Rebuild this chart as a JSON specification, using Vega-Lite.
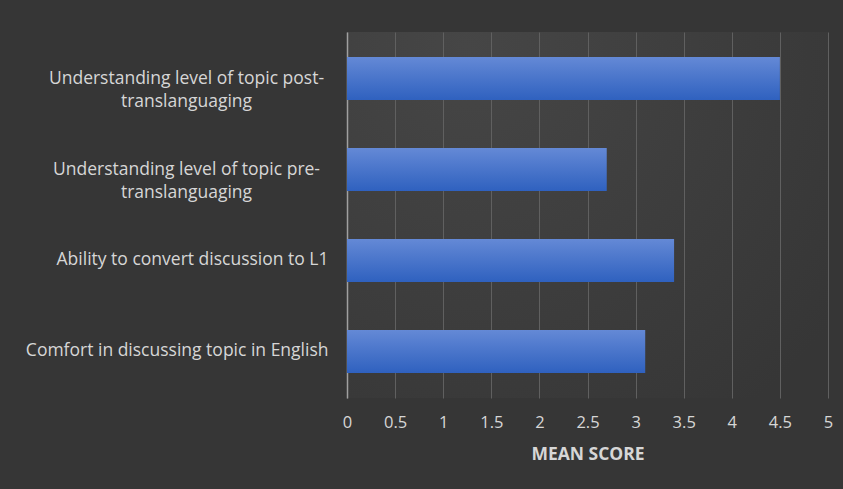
{
  "$schema": "https://vega.github.io/schema/vega-lite/v6.json",
  "width": 481,
  "height": 366,
  "autosize": {"type": "none"},
  "padding": {"left": 347, "top": 32, "right": 15, "bottom": 91},
  "background": "#363636",
  "config": {
    "view": {
      "stroke": null,
      "fill": {
        "gradient": "radial",
        "x1": 0.25, "y1": 0.15, "r1": 0,
        "x2": 0.25, "y2": 0.15, "r2": 0.95,
        "stops": [
          {"offset": 0, "color": "#464646"},
          {"offset": 1, "color": "#363636"}
        ]
      }
    },
    "font": "Open Sans"
  },
  "data": {
    "values": [
      {"item": "Understanding level of topic post-translanguaging", "score": 4.5},
      {"item": "Understanding level of topic pre-translanguaging", "score": 2.7},
      {"item": "Ability to convert discussion to L1", "score": 3.4},
      {"item": "Comfort in discussing topic in English", "score": 3.1}
    ]
  },
  "mark": {
    "type": "bar",
    "color": {
      "gradient": "linear",
      "x1": 0, "y1": 0, "x2": 0, "y2": 1,
      "stops": [
        {"offset": 0, "color": "#6489d6"},
        {"offset": 1, "color": "#2f61bf"}
      ]
    }
  },
  "encoding": {
    "y": {
      "field": "item",
      "type": "nominal",
      "sort": null,
      "scale": {"paddingInner": 0.527, "paddingOuter": 0.275},
      "axis": {
        "title": null,
        "ticks": false,
        "grid": false,
        "domainColor": "#a0a0a0",
        "domainWidth": 1.5,
        "labelFont": "Open Sans",
        "labelFontSize": 17.5,
        "labelColor": "#d6d6d6",
        "labelLimit": 400,
        "labelLineHeight": 23,
        "labelExpr": "indexof(datum.label, 'Understanding') === 0 ? [slice(datum.label, 0, indexof(datum.label, '-') + 1), slice(datum.label, indexof(datum.label, '-') + 1)] : datum.label",
        "labelAlign": {"condition": {"test": "indexof(datum.value, 'Understanding') === 0", "value": "center"}, "value": "right"},
        "labelPadding": {"condition": {"test": "indexof(datum.value, 'Understanding') === 0", "value": 161}, "value": 19}
      }
    },
    "x": {
      "field": "score",
      "type": "quantitative",
      "scale": {"domain": [0, 5]},
      "axis": {
        "title": "MEAN SCORE",
        "values": [0, 0.5, 1, 1.5, 2, 2.5, 3, 3.5, 4, 4.5, 5],
        "format": "~g",
        "ticks": false,
        "domain": false,
        "grid": true,
        "gridColor": "#606060",
        "gridWidth": 1,
        "labelFont": "Open Sans",
        "labelFontSize": 16.5,
        "labelColor": "#d6d6d6",
        "labelPadding": 16,
        "labelFlush": false,
        "titleFont": "Open Sans",
        "titleFontSize": 17.5,
        "titleFontWeight": "bold",
        "titleColor": "#d6d6d6",
        "titlePadding": 15
      }
    }
  }
}
